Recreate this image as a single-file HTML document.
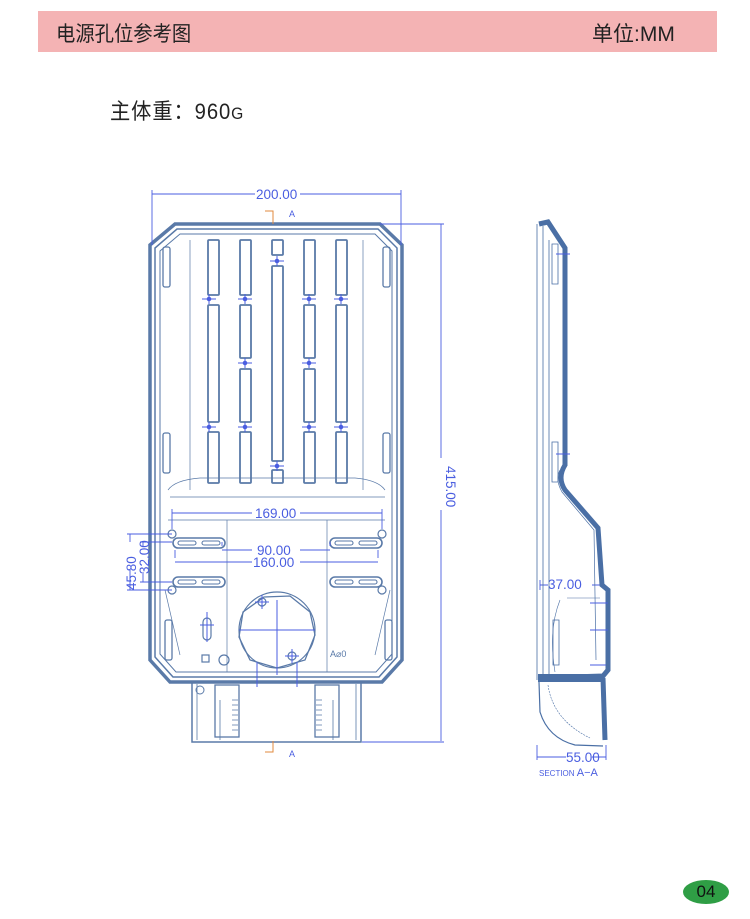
<!DOCTYPE html>
<html><head><meta charset="utf-8"><style>
html,body{margin:0;padding:0;background:#fff;}
body{width:750px;height:919px;position:relative;overflow:hidden;font-family:"Liberation Sans","Noto Sans CJK SC",sans-serif;}
.hdr{position:absolute;left:38px;top:11px;width:679px;height:41px;background:#f4b3b4;}
.t1{position:absolute;left:56px;top:18px;font-size:21px;color:#222;transform:scaleX(0.92);transform-origin:left;}
.t2{position:absolute;left:592px;top:18px;font-size:21px;color:#222;}
.t3{position:absolute;left:110px;top:94px;font-size:22px;color:#222;letter-spacing:1px;transform:scaleX(0.92);transform-origin:left;}
.ov{position:absolute;left:683px;top:880px;width:46px;height:24px;border-radius:50%;background:#2f9e45;font-size:17px;text-align:center;line-height:24px;color:#111;}
svg{position:absolute;left:0;top:0;}
</style></head><body>
<div class="hdr"></div>
<div class="t1">电源孔位参考图</div>
<div class="t2">单位:MM</div>
<div class="t3">主体重：960<span style="font-size:17px">G</span></div>
<div class="ov">04</div>
<svg width="750" height="919" viewBox="0 0 750 919" font-family="Liberation Sans, sans-serif">
<g fill="none" stroke="#5a7aa8">
 <path d="M175 224 L380 224 L402 245 L402 660 L382 682 L170 682 L150 660 L150 245 Z" stroke-width="3.5"/>
 <path d="M177 229 L378 229 L397 248 L397 657 L379 677 L173 677 L155 657 L155 248 Z" stroke-width="1.5"/>
 <path d="M180 234 L375 234 L392 251 L392 654 L376 672 L176 672 L160 654 L160 251 Z" stroke-width="1"/>
 <line x1="190" y1="240" x2="190" y2="490" stroke-width="0.7"/>
 <line x1="363" y1="240" x2="363" y2="490" stroke-width="0.7"/>
 <path d="M168 490 Q175 480 200 478 L355 478 Q378 480 385 490" stroke-width="0.7"/>
 <line x1="170" y1="497" x2="385" y2="497" stroke-width="0.7"/>
 <line x1="168" y1="520" x2="385" y2="520" stroke-width="0.7"/>
 <line x1="227" y1="520" x2="227" y2="672" stroke-width="0.7"/>
 <line x1="327" y1="520" x2="327" y2="672" stroke-width="0.7"/>
 <path d="M165 590 L180 655 M390 590 L375 655" stroke-width="0.7"/>
 <rect x="163" y="247" width="7" height="40" rx="2" stroke-width="1.3"/>
 <rect x="383" y="247" width="7" height="40" rx="2" stroke-width="1.3"/>
 <rect x="163" y="433" width="7" height="40" rx="2" stroke-width="1.3"/>
 <rect x="383" y="433" width="7" height="40" rx="2" stroke-width="1.3"/>
 <rect x="165" y="620" width="7" height="40" rx="2" stroke-width="1.3"/>
 <rect x="385" y="620" width="7" height="40" rx="2" stroke-width="1.3"/>
 <g stroke-width="1.8">
  <rect x="208" y="240" width="11" height="55" rx="1"/><rect x="208" y="305" width="11" height="117" rx="1"/><rect x="208" y="432" width="11" height="51" rx="1"/>
  <rect x="336" y="240" width="11" height="55" rx="1"/><rect x="336" y="305" width="11" height="117" rx="1"/><rect x="336" y="432" width="11" height="51" rx="1"/>
  <rect x="240" y="240" width="11" height="55" rx="1"/><rect x="240" y="305" width="11" height="53" rx="1"/><rect x="240" y="369" width="11" height="53" rx="1"/><rect x="240" y="432" width="11" height="51" rx="1"/>
  <rect x="304" y="240" width="11" height="55" rx="1"/><rect x="304" y="305" width="11" height="53" rx="1"/><rect x="304" y="369" width="11" height="53" rx="1"/><rect x="304" y="432" width="11" height="51" rx="1"/>
  <rect x="272" y="240" width="11" height="15" rx="1"/><rect x="272" y="266" width="11" height="195" rx="1"/><rect x="272" y="470" width="11" height="13" rx="1"/>
 </g>
 <g stroke-width="1.6">
  <rect x="173" y="538" width="52" height="10" rx="5"/><rect x="330" y="538" width="52" height="10" rx="5"/>
  <rect x="173" y="577" width="52" height="10" rx="5"/><rect x="330" y="577" width="52" height="10" rx="5"/>
 </g>
 <g stroke-width="1.1">
  <rect x="178" y="541" width="18" height="4" rx="2"/><rect x="202" y="541" width="18" height="4" rx="2"/>
  <rect x="335" y="541" width="18" height="4" rx="2"/><rect x="359" y="541" width="18" height="4" rx="2"/>
  <rect x="178" y="580" width="18" height="4" rx="2"/><rect x="202" y="580" width="18" height="4" rx="2"/>
  <rect x="335" y="580" width="18" height="4" rx="2"/><rect x="359" y="580" width="18" height="4" rx="2"/>
 </g>
 <g stroke-width="1.2">
  <circle cx="172" cy="534" r="4"/><circle cx="382" cy="534" r="4"/>
  <circle cx="172" cy="590" r="4"/><circle cx="382" cy="590" r="4"/>
  <path d="M264 597 L290 596 L310 612 L315 635 L305 660 L277 668 L250 660 L239 637 L243 612 Z" stroke-width="1.3"/>
  <circle cx="277" cy="630" r="38"/>
  <circle cx="262" cy="602" r="4"/><circle cx="292" cy="656" r="4"/>
  <rect x="203" y="618" width="8" height="22" rx="4"/>
  <rect x="202" y="655" width="7" height="7"/><circle cx="224" cy="660" r="5"/>
 </g>
 <path d="M192 682 L192 742 L361 742 L361 682" stroke-width="1.5"/>
 <path d="M197 684 L197 740 M356 684 L356 740 M220 700 L220 740 M333 700 L333 740" stroke-width="0.8"/>
 <rect x="215" y="685" width="24" height="52" stroke-width="1.3"/>
 <rect x="315" y="685" width="24" height="52" stroke-width="1.3"/>
 <path d="M232 700 L238 700 M232 705 L238 705 M232 710 L238 710 M232 715 L238 715 M232 720 L238 720 M232 725 L238 725 M232 730 L238 730 M316 700 L322 700 M316 705 L322 705 M316 710 L322 710 M316 715 L322 715 M316 720 L322 720 M316 725 L322 725 M316 730 L322 730" stroke-width="0.8"/>
 <circle cx="200" cy="690" r="4" stroke-width="1"/>
</g>
<g stroke="#4a5ee0" stroke-width="1" fill="#4a5ee0">
 <path d="M202 299h14M209 294v10M238 299h14M245 294v10M302 299h14M309 294v10M334 299h14M341 294v10
 M238 363h14M245 358v10M302 363h14M309 358v10
 M202 427h14M209 422v10M238 427h14M245 422v10M302 427h14M309 422v10M334 427h14M341 422v10
 M270 261h14M277 256v10M270 466h14M277 461v10
 M239 630h76M277 600v75 M255 602h14M262 595v14 M285 656h14M292 649v14
 M207 612v30 M200 625h14 M297 662v25 M257 662v25" fill="none"/>
 <circle cx="209" cy="299" r="1.8"/><circle cx="245" cy="299" r="1.8"/><circle cx="309" cy="299" r="1.8"/><circle cx="341" cy="299" r="1.8"/>
 <circle cx="245" cy="363" r="1.8"/><circle cx="309" cy="363" r="1.8"/>
 <circle cx="209" cy="427" r="1.8"/><circle cx="245" cy="427" r="1.8"/><circle cx="309" cy="427" r="1.8"/><circle cx="341" cy="427" r="1.8"/>
 <circle cx="277" cy="261" r="1.8"/><circle cx="277" cy="466" r="1.8"/>
</g>
<g stroke="#4a5ee0" stroke-width="0.9" fill="none">
 <path d="M152 194H255M300 194H401M152 190v55M401 190v55"/>
 <path d="M380 224H444M362 742H444M441 224V458M441 510V741"/>
 <path d="M172 513H252M300 513H382M172 509v20M382 509v20"/>
 <path d="M222 550H252M300 550H330M222 546v-4M330 546v-4"/>
 <path d="M175 562H252M300 562H378M175 558v-8M378 558v-8"/>
 <path d="M127 534H172M127 590H172M130 534V542M130 570V590M140 542H172M140 582H172M143 542V546M143 572V582"/>
 <path d="M540 585H548M592 585H600M540 580v10M537 757H566M592 757H606M537 745v15M606 745v15"/>
</g>
<g fill="#4a5ee0" font-size="13.5">
 <text x="256" y="199">200.00</text>
 <text x="255" y="518">169.00</text>
 <text x="257" y="555">90.00</text>
 <text x="253" y="567">160.00</text>
 <text x="548" y="589">37.00</text>
 <text x="566" y="762">55.00</text>
 <text transform="translate(446,466) rotate(90)">415.00</text>
 <text transform="translate(136,590) rotate(-90)">45.80</text>
 <text transform="translate(149,574) rotate(-90)">32.00</text>
 <text x="289" y="217" font-size="9">A</text>
 <text x="289" y="757" font-size="9">A</text>
 <text x="330" y="657" font-size="9" fill="#5a7aa8">A⌀0</text>
 <text x="539" y="776" font-size="8">SECTION <tspan font-size="11">A−A</tspan></text>
</g>
<path d="M265 211H273V224M265 752H273V741" stroke="#e08a3c" stroke-width="1" fill="none"/>
<g fill="none" stroke="#4a6fa5">
 <path d="M539 224 L548 222 L565 248 L565 465 Q557 478 565 490 L598 528 L602 585 L608 590 L608 670 L603 676 L540 678" stroke-width="5"/>
 <path d="M603 678 L605 740" stroke-width="5"/>
 <path d="M538 678 L604 678" stroke-width="8"/>
 <path d="M537 224 V680 M543 226 V678 M549 240 V678" stroke-width="0.8"/>
 <path d="M552 244 h6 v40 h-6 z M552 442 h6 v40 h-6z M553 620 h6 v45 h-6z" stroke-width="0.8"/>
 <path d="M539 682 L540 712 Q548 738 575 745 L603 746" stroke-width="1.2"/>
 <path d="M548 685 Q553 720 590 738" stroke-width="0.6" stroke-dasharray="2 1"/>
 <path d="M560 470 Q555 480 562 492 L594 530 L596 660" stroke-width="0.7"/>
 <path d="M567 598 L600 598 M560 600 Q548 630 555 672" stroke-width="0.6"/>
 <path d="M556 254h14M556 454h14M590 603h18M590 630h18M590 665h16" stroke="#4a5ee0" stroke-width="0.9"/>
</g>
</svg>
</body></html>
